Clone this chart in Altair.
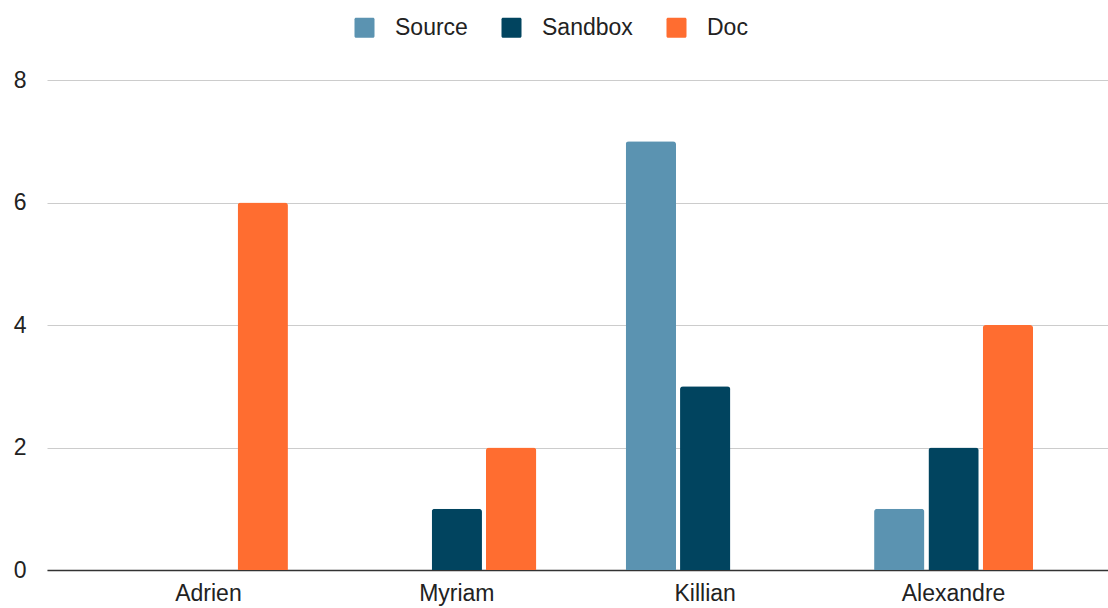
import altair as alt
import pandas as pd

names = ["Adrien", "Myriam", "Killian", "Alexandre"]
series = ["Source", "Sandbox", "Doc"]
source_vals = [0, 0, 7, 1]
sandbox_vals = [0, 1, 3, 2]
doc_vals = [6, 2, 0, 4]
colors = ["#5b93b1", "#01445f", "#ff6d30"]
y_ticks = [0, 2, 4, 6, 8]

rows = []
for i, n in enumerate(names):
    for s, vals in zip(series, [source_vals, sandbox_vals, doc_vals]):
        rows.append({"name": n, "series": s, "value": vals[i]})
df = pd.DataFrame(rows)

FONT = "Liberation Sans"
FS = 23

chart = alt.Chart(df).mark_bar(cornerRadiusTopLeft=3, cornerRadiusTopRight=3).encode(
    x=alt.X("name:N", sort=names, title=None,
            scale=alt.Scale(paddingInner=0.36, paddingOuter=0.33, range=[7, 1075]),
            axis=alt.Axis(labelAngle=0, labelFontSize=FS, labelColor="#222222", labelFont=FONT,
                          ticks=False, domainColor="#333333", domainWidth=1.5,
                          labelPadding=12, grid=False)),
    xOffset=alt.XOffset("series:N", sort=series,
                        scale=alt.Scale(paddingInner=0.074, paddingOuter=0)),
    y=alt.Y("value:Q", title=None,
            scale=alt.Scale(domain=[0, 8], nice=False),
            axis=alt.Axis(values=y_ticks, labelFontSize=FS, labelColor="#222222", labelFont=FONT,
                          ticks=False, domain=False, gridColor="#cccccc", gridWidth=1,
                          labelPadding=14)),
    color=alt.Color("series:N", sort=series,
                    scale=alt.Scale(domain=series, range=colors),
                    legend=alt.Legend(title=None, orient="none", direction="horizontal",
                                      legendX=313, legendY=-64,
                                      symbolType="M-0.85,-1H0.85A0.15,0.15 0 0 1 1,-0.85V0.85A0.15,0.15 0 0 1 0.85,1H-0.85A0.15,0.15 0 0 1 -1,0.85V-0.85A0.15,0.15 0 0 1 -0.85,-1Z",
                                      symbolSize=400,
                                      symbolStrokeWidth=0, symbolOpacity=1,
                                      labelFontSize=FS, labelColor="#222222", labelFont=FONT,
                                      labelOffset=19, columnPadding=32, padding=0)),
).properties(
    width=1068, height=490,
    autosize=alt.AutoSizeParams(type="none"),
    padding={"left": 40, "top": 80, "right": 0, "bottom": 38},
).configure(background="white").configure_view(stroke=None)

chart.save("out.html", embed_options={"renderer": "svg", "actions": False})
